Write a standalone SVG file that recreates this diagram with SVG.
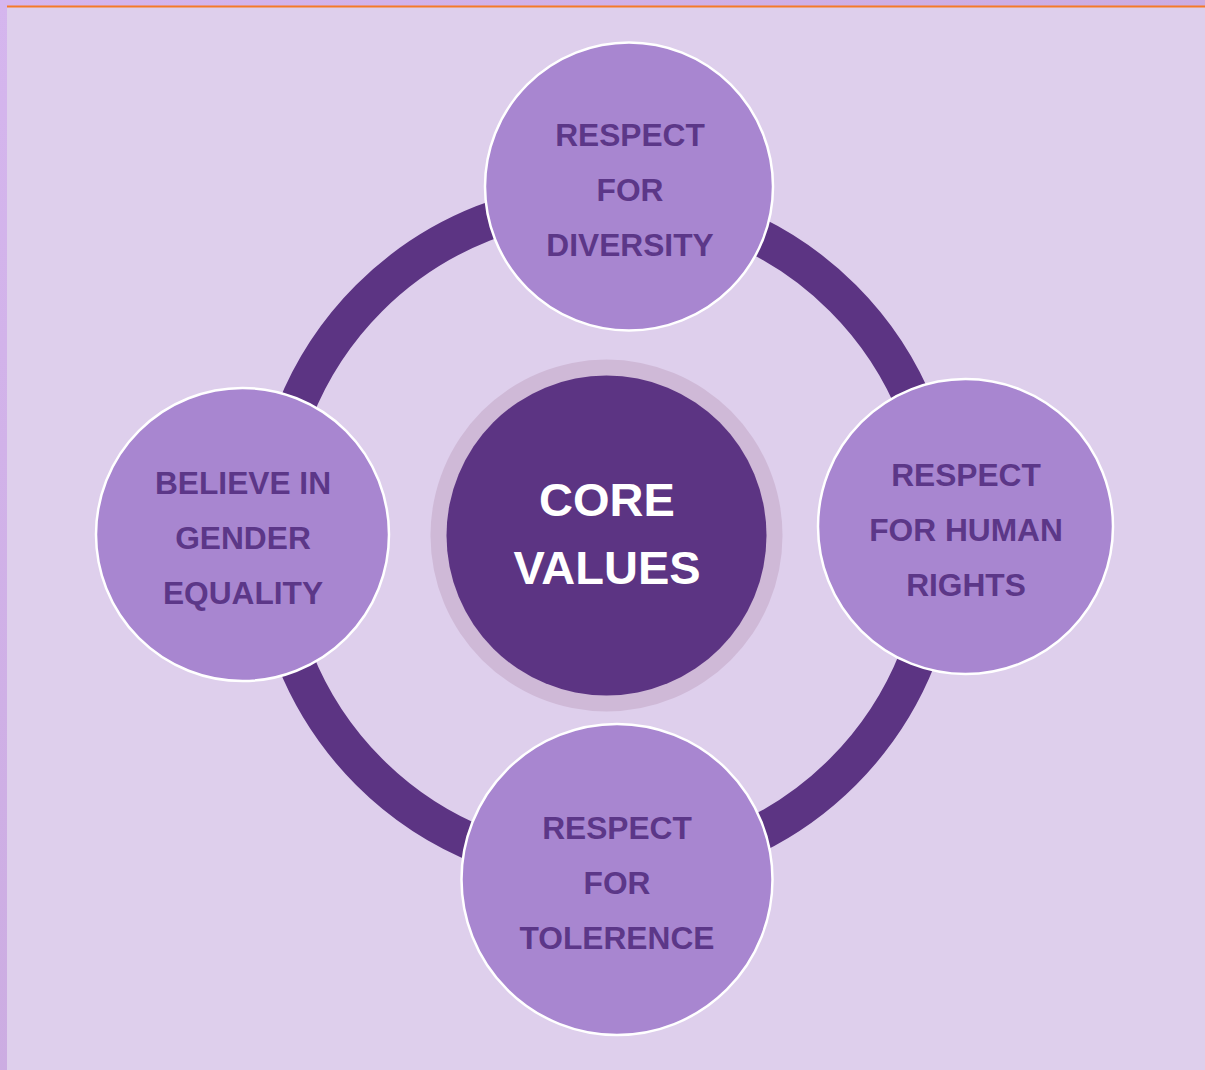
<svg xmlns="http://www.w3.org/2000/svg" width="1205" height="1070" viewBox="0 0 1205 1070">
<defs>
<linearGradient id="frame" x1="0" y1="0" x2="1" y2="1">
<stop offset="0" stop-color="#d5b6ee"/>
<stop offset="1" stop-color="#c3a3d6"/>
</linearGradient>
</defs>
<style>
.node{fill:#a886d0;stroke:#ffffff;stroke-width:2.5}
.lbl{font-family:"Liberation Sans",Arial,sans-serif;font-weight:bold;font-size:31.7px;fill:#5c3788;text-anchor:middle}
.core{font-family:"Liberation Sans",Arial,sans-serif;font-weight:bold;font-size:47px;fill:#ffffff;text-anchor:middle}
.ring{fill:none;stroke:#5c3483;stroke-width:37}
</style>
<rect x="0" y="0" width="1205" height="1070" fill="url(#frame)"/>
<rect x="7" y="7" width="1198" height="1063" fill="#decfec"/>
<line x1="7" y1="6.5" x2="1205" y2="6.5" stroke="#f57a28" stroke-width="2"/>
<g id="connectors">
<circle class="ring" cx="606" cy="535" r="335"/>
</g>
<g id="core">
<circle cx="606.5" cy="535.5" r="176" fill="#cfb9d7"/>
<circle cx="606.5" cy="535.5" r="160" fill="#5c3483"/>
<text class="core" x="607" y="516">CORE</text>
<text class="core" x="607" y="584">VALUES</text>
</g>
<g id="diversity">
<circle class="node" cx="629" cy="186.5" r="144"/>
<text class="lbl" x="630" y="145.5">RESPECT</text>
<text class="lbl" x="630" y="200.5">FOR</text>
<text class="lbl" x="630" y="255.5">DIVERSITY</text>
</g>
<g id="human-rights">
<circle class="node" cx="965.5" cy="526.5" r="147.5"/>
<text class="lbl" x="966" y="485.5">RESPECT</text>
<text class="lbl" x="966" y="540.5">FOR HUMAN</text>
<text class="lbl" x="966" y="595.5">RIGHTS</text>
</g>
<g id="tolerence">
<circle class="node" cx="617" cy="879.5" r="155.5"/>
<text class="lbl" x="617" y="838.5">RESPECT</text>
<text class="lbl" x="617" y="894">FOR</text>
<text class="lbl" x="617" y="949">TOLERENCE</text>
</g>
<g id="gender-equality">
<circle class="node" cx="242.5" cy="534.5" r="146.5"/>
<text class="lbl" x="243" y="494">BELIEVE IN</text>
<text class="lbl" x="243" y="549">GENDER</text>
<text class="lbl" x="243" y="604">EQUALITY</text>
</g>
</svg>
